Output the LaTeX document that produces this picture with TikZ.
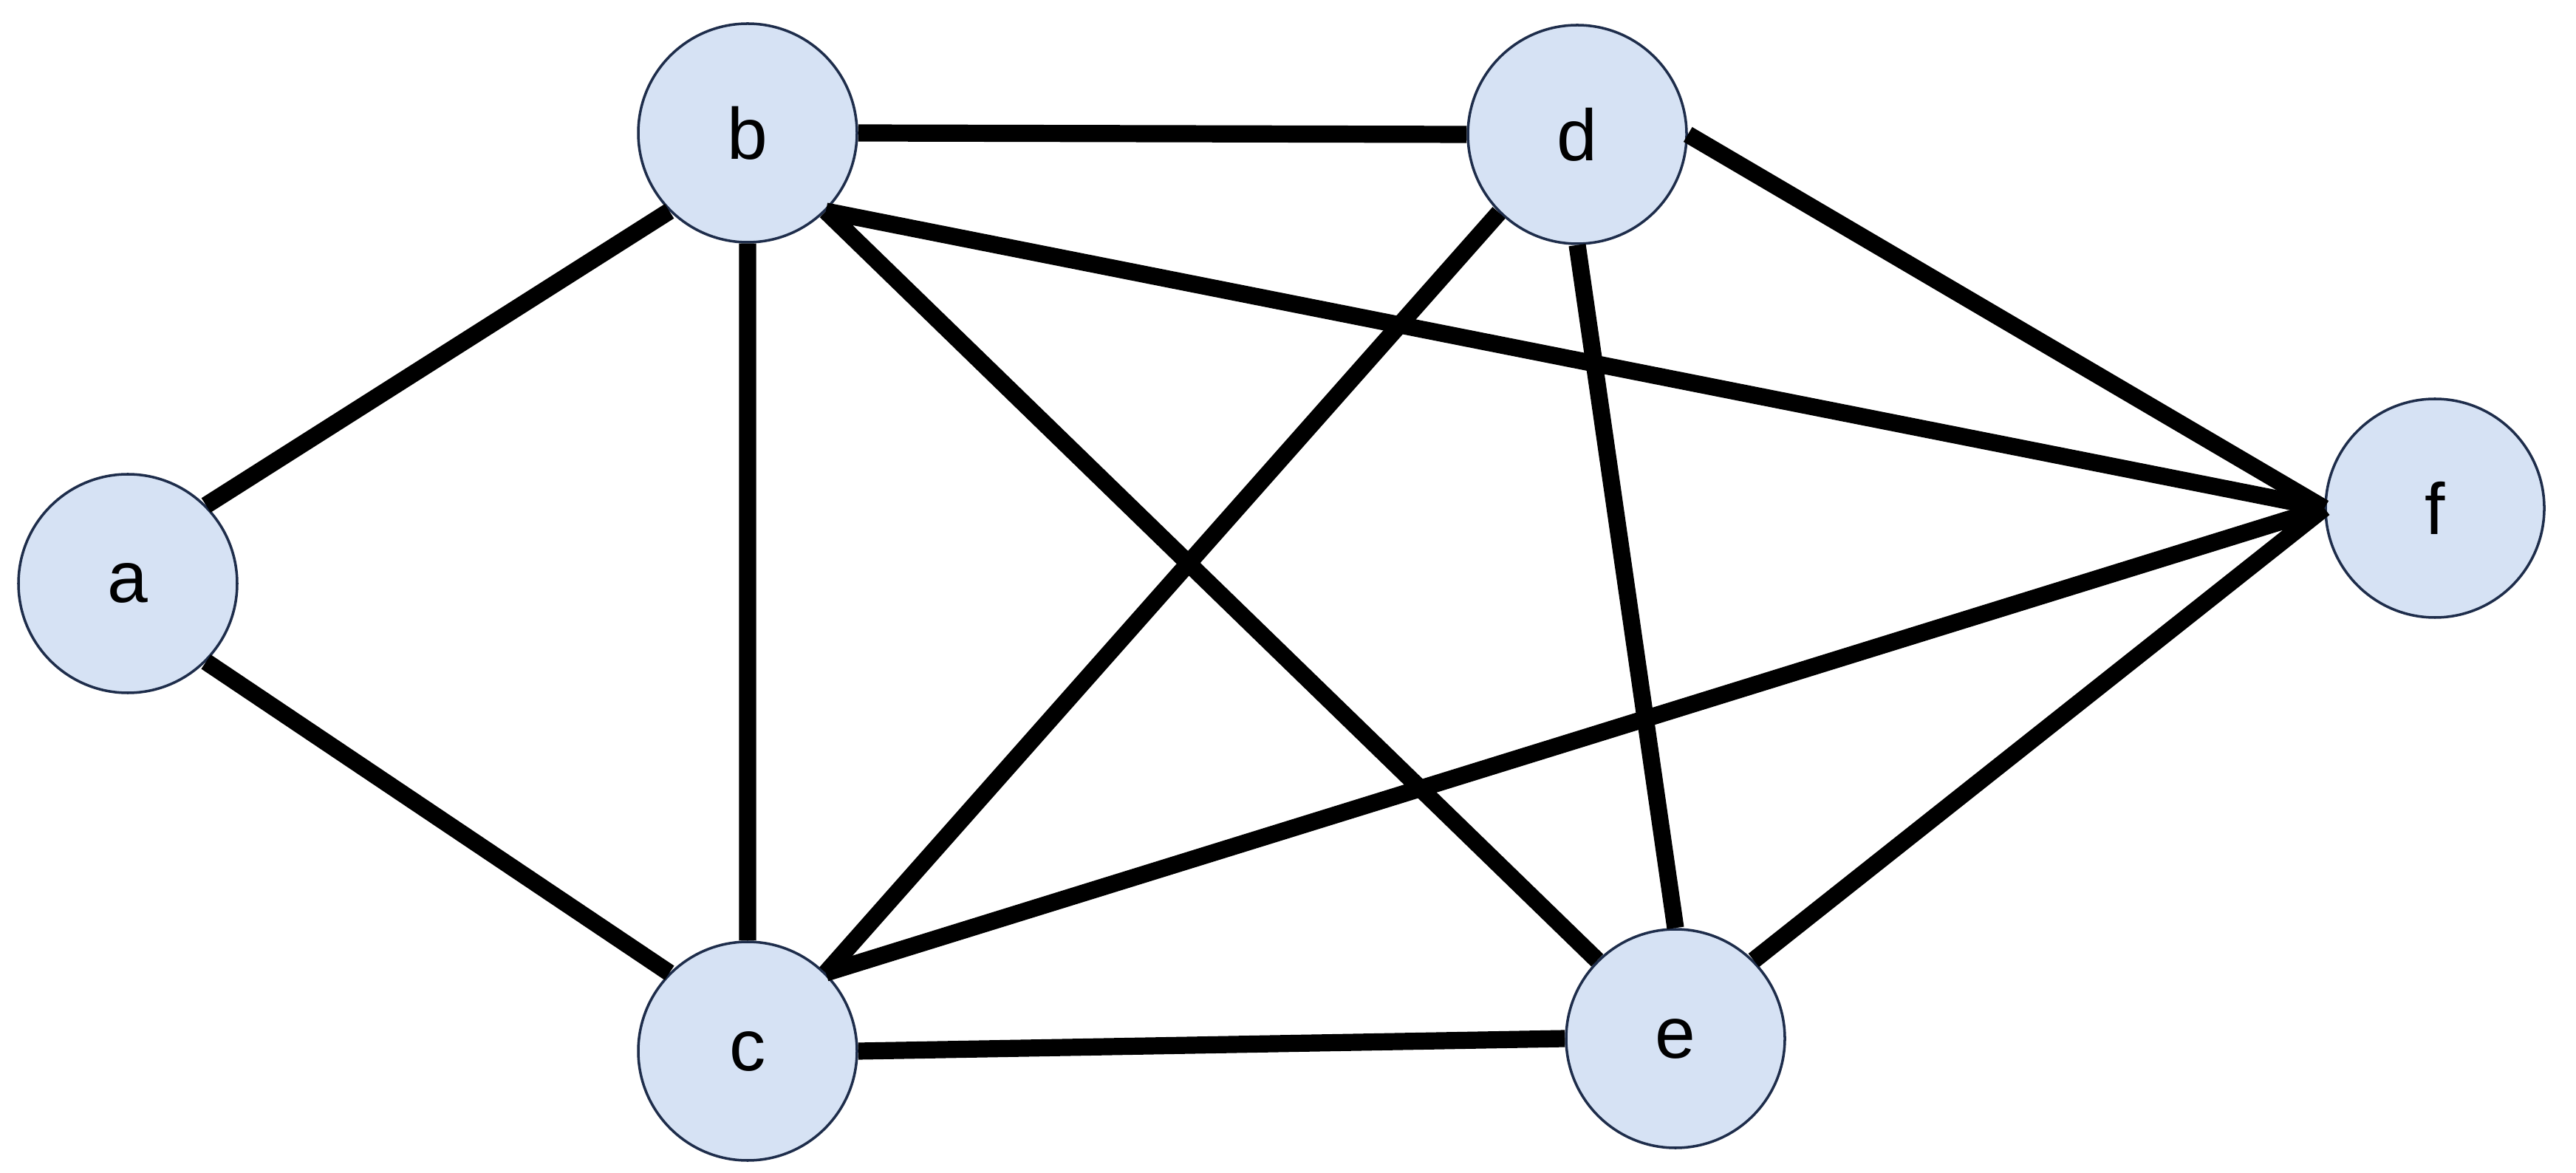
\documentclass[tikz,border=0pt]{standalone}
\usepackage{fontspec}
\setmainfont{Liberation Sans}
\definecolor{vfill}{RGB}{214,226,244}
\definecolor{vline}{RGB}{30,45,75}
\begin{document}
\begin{tikzpicture}[line join=round,font=\fontsize{28}{32}\selectfont,
	vert/.style={circle,draw=vline,line width=1pt,fill=vfill,minimum size=2.96cm,inner sep=0pt},
	edge/.style={line width=6.6pt}]
				\useasboundingbox (0,0) rectangle (34.87,15.87);
				\node[vert] (a) at (1.73,7.97) {a};
				\node[vert] (b) at (10.12,14.07) {b};
				\node[vert] (d) at (21.35,14.05) {d};
				\node[vert] (f) at (32.96,8.99) {f};
				\node[vert] (c) at (10.12,1.64) {c};
				\node[vert] (e) at (22.68,1.81) {e};
				\draw[edge] (a.north east)--(b.south west) (a.south east)--(c.north west);
				\draw[edge] (b.east)--(d.west) (b.south)--(c.north);
				\draw[edge] (b.south east)--(e.north west) (b.south east)--(f.west);
				\draw[edge] (d.south west)--(c.north east) (d.south)--(e.north) (d.east)--(f.west);
				\draw[edge] (c.north east)--(f.west) (c.east)--(e.west) (e.north east)--(f.west);
			\end{tikzpicture}
\end{document}
